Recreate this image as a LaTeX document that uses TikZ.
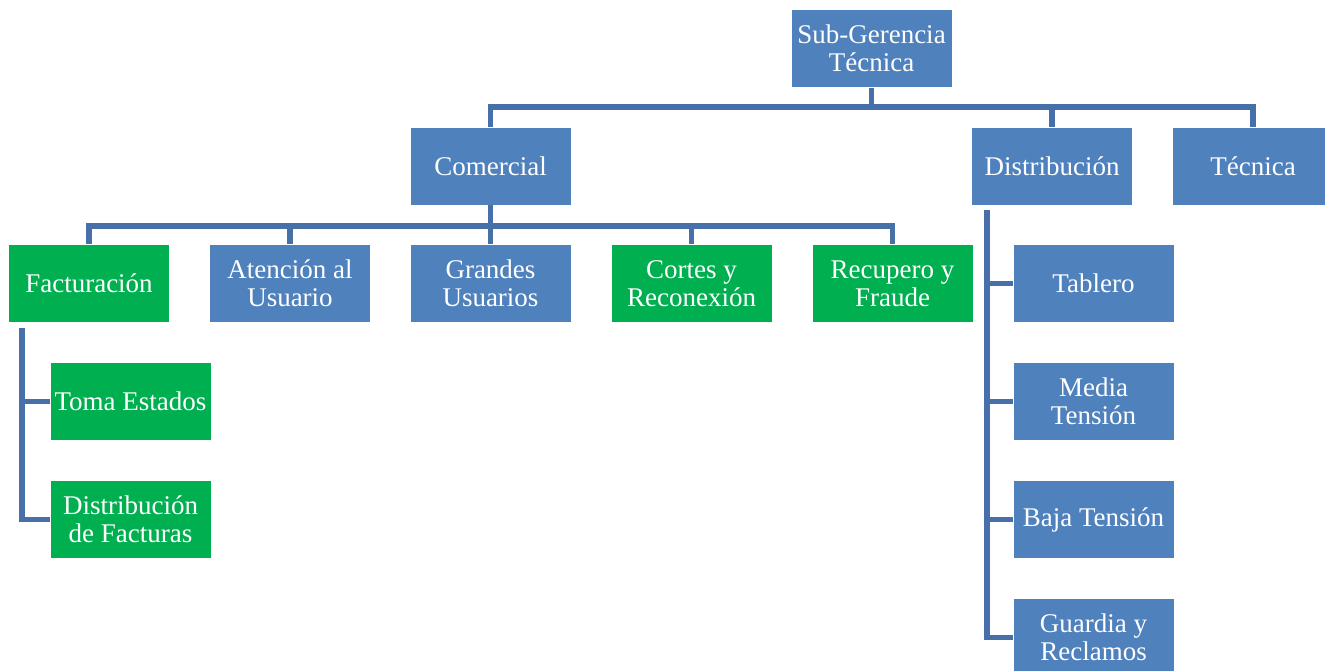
\documentclass[tikz,border=0pt]{standalone}
\usepackage{fontspec}
\setmainfont{Liberation Serif}
\definecolor{boxblue}{HTML}{4F81BD}
\definecolor{boxgreen}{HTML}{00B050}
\definecolor{linkblue}{HTML}{4670A7}
\begin{document}
\begin{tikzpicture}[x=1pt,y=-1pt,
  unit/.style={draw=white,line width=0.6pt,minimum width=161pt,minimum height=78pt,
    inner sep=2pt,align=center,text=white,
    font=\fontsize{27}{28}\selectfont},
  bluebox/.style={unit,fill=boxblue},
  greenbox/.style={unit,fill=boxgreen},
  link/.style={draw=linkblue,line width=5.8pt,line join=miter}]
\useasboundingbox (0,0) rectangle (1325,671);
\begin{scope}
\clip (0,0) rectangle (1325,671);
% junction points of the connector buses
\coordinate (busA) at (871.5,107);
\coordinate (busB) at (490.5,226);
\coordinate (vF) at (22,328);
\coordinate (vD) at (987,210);
% top level
\node[bluebox] (sub) at (871.5,48.5) {Sub-Gerencia\\Técnica};
% second level
\node[bluebox] (com) at (490.5,166) {Comercial};
\node[bluebox] (dis) at (1052,166) {Distribución};
\node[bluebox] (tec) at (1253,166) {Técnica};
% under Comercial
\node[greenbox] (fac) at (89,283.5) {Facturación};
\node[bluebox] (ate) at (290,283.5) {Atención al\\Usuario};
\node[bluebox] (gra) at (490.5,283.5) {Grandes\\Usuarios};
\node[greenbox] (cor) at (691.5,283.5) {Cortes y\\Reconexión};
\node[greenbox] (rec) at (892.5,283.5) {Recupero y\\Fraude};
% under Facturación
\node[greenbox] (tom) at (130.5,401.5) {Toma Estados};
\node[greenbox] (dfa) at (130.5,519.5) {Distribución\\de Facturas};
% under Distribución
\node[bluebox] (tab) at (1093.5,283.5) {Tablero};
\node[bluebox] (med) at (1093.5,401.5) {Media\\Tensión};
\node[bluebox] (baj) at (1093.5,519.5) {Baja Tensión};
\node[bluebox] (gua) at (1093.5,637.5) {Guardia y\\Reclamos};
% links from Sub-Gerencia
\draw[link] (sub.south) -- (busA);
\draw[link] (com.north) |- (busA) -| (tec.north);
\draw[link] (busA) -| (dis.north);
% links from Comercial
\draw[link] (com.south) -- (busB);
\draw[link] (fac.north) |- (busB) -| (rec.north);
\draw[link] (busB) -| (ate.north);
\draw[link] (busB) -| (gra.north);
\draw[link] (busB) -| (cor.north);
% links from Facturación
\draw[link] (vF) |- (dfa.west);
\draw[link] (vF |- tom.west) -- (tom.west);
% links from Distribución
\draw[link] (vD) |- (gua.west);
\draw[link] (vD |- tab.west) -- (tab.west);
\draw[link] (vD |- med.west) -- (med.west);
\draw[link] (vD |- baj.west) -- (baj.west);
\end{scope}
\end{tikzpicture}
\end{document}
